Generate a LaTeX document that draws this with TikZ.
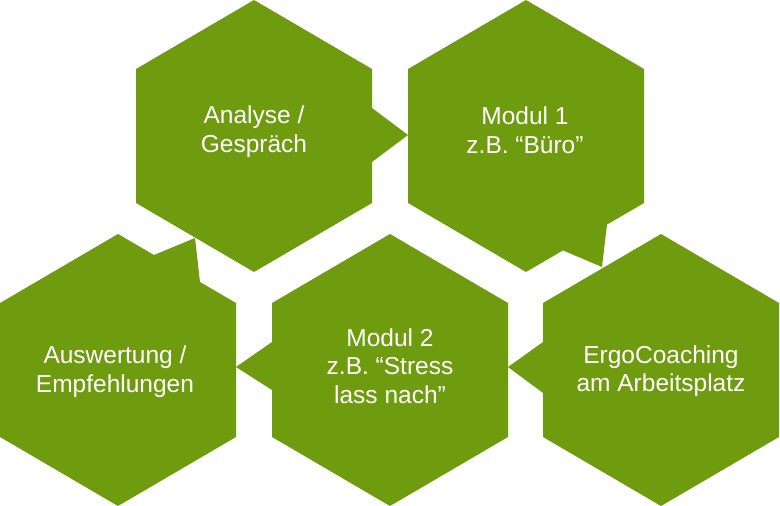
\documentclass[tikz,border=0pt]{standalone}
\usepackage{fontspec}
\setmainfont{Liberation Sans}
\definecolor{hexgreen}{RGB}{111,155,15}
\tikzset{
  hexfill/.style={fill=hexgreen, draw=none},
  hextext/.style={text=white, align=center, inner sep=0pt,
    font=\fontsize{24.5}{28.6}\selectfont}
}
\begin{document}
\begin{tikzpicture}[x=1pt,y=-1pt]
\useasboundingbox (0,0) rectangle (780,506);
% Hexagon 1: Analyse / Gespraech (pointer to the right)
\fill[hexfill] (254,0) -- (372,69) -- (372,108) -- (408,135) -- (372,162) -- (372,203)
  -- (254,272) -- (136,203) -- (136,69) -- cycle;
% Hexagon 2: Modul 1 (pointer down-right)
\fill[hexfill] (526,0) -- (644,69) -- (644,203) -- (607,224.6) -- (602,267) -- (563,250.4)
  -- (526,272) -- (408,203) -- (408,69) -- cycle;
% Hexagon 3: ErgoCoaching (pointer to the left)
\fill[hexfill] (661,234) -- (779,303) -- (779,437) -- (661,506) -- (543,437) -- (543,393)
  -- (508,367) -- (543,342) -- (543,303) -- cycle;
% Hexagon 4: Modul 2 (pointer to the left)
\fill[hexfill] (390,234) -- (508,303) -- (508,437) -- (390,506) -- (272,437) -- (272,390)
  -- (236,367) -- (272,342) -- (272,303) -- cycle;
% Hexagon 5: Auswertung (pointer up)
\fill[hexfill] (118,234) -- (154,255) -- (195,238) -- (200,282) -- (236,303) -- (236,437)
  -- (118,506) -- (0,437) -- (0,303) -- cycle;
% Texts
\node[hextext] (t1) at (254,131.5) {Analyse /\\Gespräch};
\node[hextext] (t2) at (525,130.5) {Modul 1\\z.B. “Büro”};
\node[hextext] (t3) at (661,371) {ErgoCoaching\\am Arbeitsplatz};
\node[hextext] (t4) at (390,366) {Modul 2\\z.B. “Stress\\lass nach”};
\node[hextext] (t5) at (115,371.5) {Auswertung /\\Empfehlungen};
\end{tikzpicture}
\end{document}
